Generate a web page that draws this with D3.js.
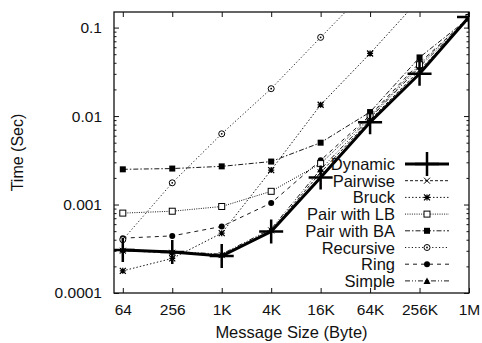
<!DOCTYPE html>
<html>
<head>
<meta charset="utf-8">
<script src="https://cdn.jsdelivr.net/npm/d3@7"></script>
<style>
  body { margin: 0; background: #fff; }
  svg { display: block; font-family: "Liberation Sans", Arial, sans-serif; }
</style>
</head>
<body>
<svg id="chart" width="482" height="343"></svg>
<script>
// message sizes (bytes) and their tick labels
const sizes = [64, 256, 1024, 4096, 16384, 65536, 262144, 1048576];
const sizeLabels = ['64', '256', '1K', '4K', '16K', '64K', '256K', '1M'];
const timeTicks = [0.0001, 0.001, 0.01, 0.1];
const timeLabels = ['0.0001', '0.001', '0.01', '0.1'];

// series, time in seconds (null = not measured / not shown)
const seriesNames = ['Dynamic', 'Pairwise', 'Bruck', 'Pair with LB', 'Pair with BA', 'Recursive', 'Ring', 'Simple'];
const dynamic   = [0.000306, 0.000291, 0.000262, 0.000495, 0.00202, 0.0085, 0.0301, 0.132];
const pairwise  = [0.000300, 0.000285, 0.000268, 0.000510, 0.00230, 0.0090, 0.0330, 0.125];
const bruck     = [0.000178, 0.000246, 0.000475, 0.00245, 0.0134, 0.051, 0.21, null];
const pairLB    = [0.00080, 0.00084, 0.00095, 0.00141, 0.0029, 0.0098, 0.038, 0.130];
const pairBA    = [0.00250, 0.00255, 0.00270, 0.00306, 0.0050, 0.0111, 0.046, 0.128];
const recursive = [0.00040, 0.00176, 0.0063, 0.0204, 0.0775, 0.29, null, null];
const ring      = [0.000417, 0.000442, 0.000565, 0.00104, 0.00316, 0.0102, 0.040, 0.128];
const simple    = [0.000310, 0.000295, 0.000275, 0.000530, 0.00250, 0.0095, 0.036, 0.127];

const seriesValues = [dynamic, pairwise, bruck, pairLB, pairBA, recursive, ring, simple];

// drawing style per series (same order as seriesNames)
const styles = [
  { width: 3,   dash: null,            marker: 'bigplus' },
  { width: 0.9, dash: '3,2',           marker: 'cross' },
  { width: 0.9, dash: '1.5,2',         marker: 'star' },
  { width: 0.9, dash: '1,1.3',         marker: 'square' },
  { width: 0.9, dash: '5,2,1.5,2',     marker: 'fsquare' },
  { width: 0.9, dash: '1.2,2.2',       marker: 'ocircle' },
  { width: 0.9, dash: '4,4',           marker: 'fcircle' },
  { width: 0.9, dash: '5,2,1,2,1,2',   marker: 'triangle' }
];

const svg = d3.select('#chart');
const plotLeft = 114, plotRight = 469, plotTop = 12, plotBottom = 293;

const x = d3.scaleLog().base(2).domain([50, 1048576]).range([plotLeft, plotRight]);
const y = d3.scaleLog().base(10).domain([0.0001, 0.15]).range([plotBottom, plotTop]);

// minor ticks on the time axis
const minorTicks = [];
timeTicks.forEach(d => {
  for (let k = 2; k <= 9; k++) {
    const v = d * k;
    if (v < 0.15) minorTicks.push(v);
  }
});

svg.append('defs').append('clipPath').attr('id', 'plotClip')
  .append('rect')
  .attr('x', plotLeft).attr('y', plotTop)
  .attr('width', plotRight - plotLeft).attr('height', plotBottom - plotTop);

// axes (ticks point inward, mirrored on top/right)
svg.append('g')
  .attr('transform', `translate(0,${plotBottom})`)
  .call(d3.axisBottom(x).tickValues(sizes).tickFormat((d, i) => sizeLabels[i]).tickSize(-5).tickPadding(11));

svg.append('g')
  .attr('transform', `translate(0,${plotTop})`)
  .call(d3.axisTop(x).tickValues(sizes).tickFormat('').tickSize(-5));

svg.append('g')
  .attr('transform', `translate(${plotLeft},0)`)
  .call(d3.axisLeft(y).tickValues(timeTicks).tickFormat((d, i) => timeLabels[i]).tickSize(-5).tickPadding(12));

svg.append('g')
  .attr('transform', `translate(${plotLeft},0)`)
  .call(d3.axisLeft(y).tickValues(minorTicks).tickFormat('').tickSize(-2.5));

svg.append('g')
  .attr('transform', `translate(${plotRight},0)`)
  .call(d3.axisRight(y).tickValues(timeTicks).tickFormat('').tickSize(-5));

svg.append('g')
  .attr('transform', `translate(${plotRight},0)`)
  .call(d3.axisRight(y).tickValues(minorTicks).tickFormat('').tickSize(-2.5));

svg.selectAll('.domain').remove();
svg.selectAll('.tick line').attr('stroke', '#111').attr('stroke-width', 1);
svg.selectAll('.tick text').attr('fill', '#111').style('font-size', '15.5px');

svg.append('rect')
  .attr('x', plotLeft).attr('y', plotTop)
  .attr('width', plotRight - plotLeft).attr('height', plotBottom - plotTop)
  .attr('fill', 'none').attr('stroke', '#111').attr('stroke-width', 1.3);

// axis titles
svg.append('text')
  .attr('x', (plotLeft + plotRight) / 2).attr('y', 338)
  .attr('text-anchor', 'middle')
  .style('font-size', '16.5px').attr('fill', '#111')
  .text('Message Size (Byte)');

svg.append('text')
  .attr('transform', `translate(23,${(plotTop + plotBottom) / 2}) rotate(-90)`)
  .attr('text-anchor', 'middle')
  .style('font-size', '16px').attr('fill', '#111')
  .text('Time (Sec)');

function drawMarker(g, type, cx, cy) {
  const s = 3;
  if (type === 'bigplus') {
    g.append('path').attr('d', `M${cx - 12},${cy}H${cx + 12}M${cx},${cy - 12}V${cy + 12}`)
      .attr('stroke', '#000').attr('stroke-width', 2.5);
  } else if (type === 'cross') {
    g.append('path').attr('d', `M${cx - s},${cy - s}L${cx + s},${cy + s}M${cx - s},${cy + s}L${cx + s},${cy - s}`)
      .attr('stroke', '#000').attr('stroke-width', 1);
  } else if (type === 'star') {
    g.append('path').attr('d', `M${cx - s},${cy - s}L${cx + s},${cy + s}M${cx - s},${cy + s}L${cx + s},${cy - s}M${cx - s},${cy}H${cx + s}M${cx},${cy - s}V${cy + s}`)
      .attr('stroke', '#000').attr('stroke-width', 1.3);
  } else if (type === 'square') {
    g.append('rect').attr('x', cx - s).attr('y', cy - s).attr('width', 2 * s).attr('height', 2 * s)
      .attr('fill', '#fff').attr('stroke', '#000').attr('stroke-width', 1);
  } else if (type === 'fsquare') {
    g.append('rect').attr('x', cx - s).attr('y', cy - s).attr('width', 2 * s).attr('height', 2 * s)
      .attr('fill', '#000');
  } else if (type === 'ocircle') {
    g.append('circle').attr('cx', cx).attr('cy', cy).attr('r', s)
      .attr('fill', '#fff').attr('stroke', '#000').attr('stroke-width', 1);
    g.append('circle').attr('cx', cx).attr('cy', cy).attr('r', 0.9).attr('fill', '#000');
  } else if (type === 'fcircle') {
    g.append('circle').attr('cx', cx).attr('cy', cy).attr('r', s).attr('fill', '#000');
  } else if (type === 'triangle') {
    g.append('path').attr('d', `M${cx},${cy - s - 0.5}L${cx + s + 0.5},${cy + s}L${cx - s - 0.5},${cy + s}Z`)
      .attr('fill', '#000');
  }
}

const plot = svg.append('g').attr('clip-path', 'url(#plotClip)');

const line = d3.line()
  .defined(d => d.v != null)
  .x(d => x(d.size))
  .y(d => y(d.v));

// draw thin series first, Dynamic last on top
const order = [7, 6, 5, 4, 3, 2, 1, 0];
order.forEach(si => {
  const st = styles[si];
  const pts = sizes.map((s, i) => ({ size: s, v: seriesValues[si][i] }));
  const g = plot.append('g');
  g.append('path')
    .datum(pts)
    .attr('d', line)
    .attr('fill', 'none')
    .attr('stroke', '#000')
    .attr('stroke-width', st.width)
    .attr('stroke-dasharray', st.dash);
  pts.filter(d => d.v != null).forEach(d => drawMarker(g, st.marker, x(d.size), y(d.v)));
});

// legend
const legX = 395, legY0 = 164, legStep = 16.7, sampleX0 = 405, sampleX1 = 449;
const legend = svg.append('g');
seriesNames.forEach((name, i) => {
  const cy = legY0 + i * legStep;
  const st = styles[i];
  legend.append('text')
    .attr('x', legX).attr('y', cy + 6)
    .attr('text-anchor', 'end')
    .style('font-size', '16.5px').attr('fill', '#111')
    .text(name);
  legend.append('line')
    .attr('x1', sampleX0).attr('x2', sampleX1)
    .attr('y1', cy).attr('y2', cy)
    .attr('stroke', '#000')
    .attr('stroke-width', st.width)
    .attr('stroke-dasharray', st.dash);
  drawMarker(legend, st.marker, (sampleX0 + sampleX1) / 2, cy);
});
</script>
</body>
</html>
